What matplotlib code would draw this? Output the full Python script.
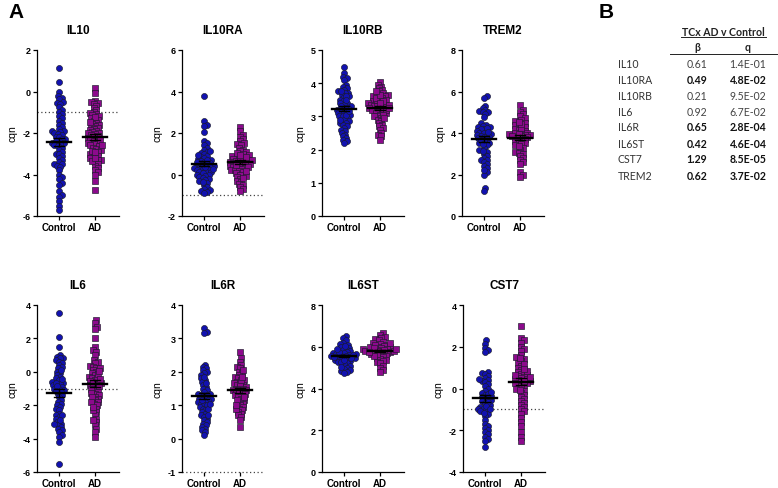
import numpy as np
import matplotlib
matplotlib.use("Agg")
import matplotlib.pyplot as plt

plt.rcParams['font.family'] = ['Liberation Sans', 'DejaVu Sans']
plt.rcParams['axes.unicode_minus'] = False

groups = ["Control", "AD"]

il10_ctrl = [1.15, 0.45, 0.0, -0.2, -0.3, -0.35, -0.5, -0.55, -0.6, -0.75, -0.9, -1.0, -1.1, -1.2,
             -1.3, -1.4, -1.5, -1.6, -1.7, -1.8, -1.9, -1.9, -1.95, -2.0, -2.05, -2.1, -2.2, -2.2,
             -2.3, -2.3, -2.4, -2.4, -2.5, -2.5, -2.55, -2.6, -2.65, -2.7, -2.8, -2.9, -3.0, -3.0,
             -3.1, -3.2, -3.3, -3.4, -3.5, -3.5, -3.6, -3.65, -3.8, -4.0, -4.1, -4.2, -4.4, -4.5,
             -4.8, -5.0, -5.1, -5.3, -5.5, -5.7]
il10_ad = [0.15, -0.05, -0.45, -0.5, -0.55, -0.6, -0.7, -0.8, -0.9, -1.0, -1.05, -1.1, -1.15, -1.2,
           -1.3, -1.35, -1.4, -1.5, -1.55, -1.6, -1.65, -1.7, -1.75, -1.8, -1.85, -1.9, -1.95, -2.0,
           -2.0, -2.05, -2.1, -2.15, -2.2, -2.25, -2.3, -2.35, -2.4, -2.45, -2.5, -2.55, -2.6, -2.65,
           -2.7, -2.75, -2.8, -2.9, -3.0, -3.05, -3.1, -3.2, -3.3, -3.3, -3.4, -3.5, -3.6, -3.7,
           -3.8, -3.9, -4.0, -4.3, -4.75, -1.25, -1.45, -2.35, -2.85, -3.35, -2.6, -2.9, -3.2]

il10ra_ctrl = [3.8, 2.6, 2.4, 2.35, 2.05, 1.6, 1.5, 1.4, 1.3, 1.2, 1.1, 1.05, 1.0, 0.9, 0.85, 0.8,
               0.75, 0.7, 0.65, 0.6, 0.55, 0.5, 0.5, 0.45, 0.4, 0.4, 0.35, 0.3, 0.3, 0.25, 0.2, 0.2,
               0.15, 0.1, 0.1, 0.05, 0.0, 0.0, -0.05, -0.1, -0.15, -0.2, -0.25, -0.3, -0.4, -0.5,
               -0.6, -0.7, -0.75, -0.8, -0.85, -0.9, 0.6, 0.7, 0.35, 0.25, -0.35, 1.15, 0.95]
il10ra_ad = [2.3, 2.1, 1.9, 1.8, 1.7, 1.6, 1.5, 1.45, 1.4, 1.3, 1.2, 1.15, 1.1, 1.0, 0.95, 0.9, 0.85,
             0.8, 0.75, 0.7, 0.7, 0.65, 0.6, 0.6, 0.55, 0.5, 0.5, 0.45, 0.4, 0.4, 0.35, 0.3, 0.3,
             0.25, 0.2, 0.2, 0.15, 0.1, 0.05, 0.0, -0.05, -0.1, -0.2, -0.3, -0.35, -0.45, -0.5,
             -0.6, -0.7, -0.8, 0.65, 0.55, 0.45, 0.35, 0.85, 1.05, 0.15, -0.15, 0.75, 0.95]

il10rb_ctrl = [4.5, 4.3, 4.2, 4.15, 4.1, 3.95, 3.9, 3.85, 3.8, 3.75, 3.7, 3.7, 3.65, 3.6, 3.55, 3.5,
               3.45, 3.4, 3.4, 3.35, 3.3, 3.3, 3.25, 3.2, 3.2, 3.15, 3.1, 3.1, 3.05, 3.0, 3.0, 2.95,
               2.9, 2.85, 2.8, 2.8, 2.75, 2.7, 2.65, 2.6, 2.55, 2.5, 2.45, 2.4, 2.35, 2.3, 2.25, 2.2,
               3.6, 3.5, 3.25, 3.05, 2.9, 3.75, 3.15]
il10rb_ad = [4.05, 3.95, 3.9, 3.85, 3.8, 3.75, 3.7, 3.65, 3.6, 3.6, 3.55, 3.5, 3.5, 3.45, 3.4, 3.4,
             3.35, 3.35, 3.3, 3.3, 3.25, 3.25, 3.2, 3.2, 3.15, 3.15, 3.1, 3.1, 3.05, 3.0, 3.0, 2.95,
             2.9, 2.85, 2.8, 2.75, 2.7, 2.65, 2.6, 2.5, 2.45, 2.4, 2.3, 3.45, 3.3, 3.2, 3.55, 3.65,
             3.05, 2.95, 3.35, 3.75, 3.25, 3.4]

trem2_ctrl = [5.8, 5.7, 5.3, 5.2, 5.1, 5.05, 5.0, 5.0, 4.9, 4.75, 4.5, 4.4, 4.35, 4.3, 4.3, 4.2, 4.2,
              4.1, 4.0, 4.0, 3.95, 3.9, 3.9, 3.85, 3.8, 3.8, 3.75, 3.7, 3.6, 3.5, 3.5, 3.4, 3.3, 3.2,
              3.1, 3.0, 2.9, 2.8, 2.7, 2.7, 2.6, 2.5, 2.4, 2.3, 2.1, 2.0, 1.35, 1.2, 4.25, 3.65,
              3.45, 4.05, 2.2, 3.15]
trem2_ad = [5.35, 5.1, 5.0, 4.9, 4.8, 4.7, 4.65, 4.6, 4.5, 4.4, 4.35, 4.3, 4.2, 4.15, 4.1, 4.05, 4.0,
            4.0, 3.95, 3.9, 3.9, 3.85, 3.8, 3.8, 3.75, 3.7, 3.65, 3.6, 3.55, 3.5, 3.45, 3.4, 3.3,
            3.2, 3.1, 3.05, 3.0, 2.9, 2.8, 2.7, 2.6, 2.5, 2.1, 2.0, 1.9, 4.25, 3.95, 4.45, 3.85,
            3.35, 4.55]

il6_ctrl = [3.55, 2.1, 1.5, 1.0, 0.9, 0.85, 0.8, 0.7, 0.6, 0.5, 0.4, 0.3, 0.2, 0.0, -0.1, -0.2,
            -0.3, -0.4, -0.5, -0.6, -0.7, -0.75, -0.8, -0.9, -1.0, -1.0, -1.1, -1.2, -1.3, -1.4,
            -1.5, -1.7, -1.8, -1.9, -2.0, -2.1, -2.2, -2.3, -2.5, -2.6, -2.7, -2.8, -3.0, -3.1,
            -3.2, -3.3, -3.4, -3.5, -3.6, -3.8, -3.9, -4.2, -5.5, -0.65, -0.85, -1.15, -2.6, -3.15,
            0.1, -0.45, -2.9]
il6_ad = [3.1, 2.9, 2.7, 2.55, 2.0, 1.5, 1.3, 1.2, 1.0, 0.7, 0.6, 0.5, 0.35, 0.3, 0.2, 0.1, 0.0,
          -0.1, -0.2, -0.3, -0.4, -0.5, -0.55, -0.6, -0.7, -0.75, -0.8, -0.9, -1.0, -1.1, -1.2,
          -1.3, -1.4, -1.5, -1.6, -1.7, -1.8, -1.9, -2.0, -2.2, -2.4, -2.6, -2.8, -3.0, -3.2,
          -3.4, -3.6, -3.9, -0.65, -0.35, -0.15, 0.25, -1.05, -1.25, -0.45, -2.3, -2.9, 0.05, -0.85,
          -1.5, -1.8, -2.1]

il6r_ctrl = [3.3, 3.2, 3.15, 2.2, 2.15, 2.1, 2.05, 2.0, 1.95, 1.9, 1.8, 1.75, 1.7, 1.6, 1.55, 1.5,
             1.45, 1.4, 1.35, 1.3, 1.3, 1.25, 1.2, 1.2, 1.15, 1.1, 1.1, 1.05, 1.0, 1.0, 0.95, 0.9,
             0.85, 0.8, 0.75, 0.7, 0.65, 0.6, 0.55, 0.5, 0.45, 0.4, 0.35, 0.3, 0.25, 0.2, 0.1,
             1.65, 1.35, 1.15, 0.9, 1.85, 0.7, 1.05]
il6r_ad = [2.6, 2.4, 2.3, 2.2, 2.15, 2.1, 2.0, 1.95, 1.9, 1.85, 1.8, 1.75, 1.7, 1.65, 1.6, 1.6, 1.55,
           1.5, 1.5, 1.45, 1.45, 1.4, 1.4, 1.35, 1.3, 1.3, 1.25, 1.2, 1.15, 1.1, 1.05, 1.0, 0.95,
           0.9, 0.85, 0.8, 0.75, 0.7, 0.65, 0.55, 0.35, 1.55, 1.65, 1.75, 1.35, 1.25, 1.85, 2.05,
           1.15, 1.45, 0.9, 1.0]

il6st_ctrl = [6.5, 6.4, 6.3, 6.2, 6.15, 6.1, 6.0, 5.95, 5.9, 5.85, 5.8, 5.75, 5.7, 5.7, 5.65, 5.6,
              5.6, 5.55, 5.55, 5.5, 5.5, 5.45, 5.4, 5.4, 5.35, 5.3, 5.25, 5.2, 5.15, 5.1, 5.0, 4.95,
              4.9, 4.85, 4.8, 4.75, 5.65, 5.5, 5.6, 5.75, 5.45, 6.05, 5.25, 5.05, 5.9, 5.35]
il6st_ad = [6.65, 6.55, 6.45, 6.4, 6.35, 6.3, 6.25, 6.2, 6.15, 6.1, 6.05, 6.0, 6.0, 5.95, 5.9, 5.9,
            5.85, 5.85, 5.8, 5.8, 5.75, 5.75, 5.7, 5.7, 5.65, 5.6, 5.55, 5.5, 5.45, 5.4, 5.35, 5.3,
            5.25, 5.2, 5.1, 5.0, 4.9, 4.8, 5.8, 5.9, 6.0, 6.1, 5.65, 5.55, 6.2, 5.95, 5.75, 5.85]

cst7_ctrl = [2.3, 2.15, 1.95, 1.85, 1.75, 0.8, 0.75, 0.7, 0.6, 0.5, 0.4, 0.35, 0.3, 0.2, 0.1, 0.0,
             -0.1, -0.2, -0.3, -0.4, -0.45, -0.5, -0.55, -0.6, -0.7, -0.8, -0.9, -0.95, -1.0,
             -1.05, -1.1, -1.2, -1.3, -1.5, -1.7, -1.8, -1.9, -2.0, -2.1, -2.2, -2.3, -2.4, -2.5,
             -2.8, -0.35, -0.65, -0.85, -1.0, 0.45, -0.25, -1.15, -0.15]
cst7_ad = [3.0, 2.4, 2.3, 2.2, 2.0, 1.9, 1.8, 1.6, 1.5, 1.4, 1.3, 1.2, 1.1, 1.0, 0.9, 0.8, 0.75, 0.7,
           0.65, 0.6, 0.55, 0.5, 0.45, 0.4, 0.35, 0.3, 0.25, 0.2, 0.15, 0.1, 0.0, -0.1, -0.2, -0.3,
           -0.4, -0.5, -0.6, -0.7, -0.8, -0.9, -1.0, -1.1, -1.2, -1.4, -1.6, -1.8, -2.1, -2.3,
           -2.5, 0.45, 0.55, 0.35, 0.65, 1.15, 0.85, 0.25, 1.45, -0.05, 0.95]

# table (panel B)
table_genes = ["IL10", "IL10RA", "IL10RB", "IL6", "IL6R", "IL6ST", "CST7", "TREM2"]
table_beta = ["0.61", "0.49", "0.21", "0.92", "0.65", "0.42", "1.29", "0.62"]
table_q = ["1.4E-01", "4.8E-02", "9.5E-02", "6.7E-02", "2.8E-04", "4.6E-04", "8.5E-05", "3.7E-02"]
table_bold = [False, True, False, False, True, True, True, True]

# name, control, ad, ylim, yticks, ref line, axis rect in px (left, top, bottom)
panels = [
    ("IL10", il10_ctrl, il10_ad, (-6, 2), np.arange(-6, 3, 2), True, (37, 51, 217)),
    ("IL10RA", il10ra_ctrl, il10ra_ad, (-2, 6), np.arange(-2, 7, 2), True, (182, 51, 217)),
    ("IL10RB", il10rb_ctrl, il10rb_ad, (0, 5), np.arange(0, 6, 1), False, (322, 51, 217)),
    ("TREM2", trem2_ctrl, trem2_ad, (0, 8), np.arange(0, 9, 2), False, (462, 51, 217)),
    ("IL6", il6_ctrl, il6_ad, (-6, 4), np.arange(-6, 5, 2), True, (37, 306, 473)),
    ("IL6R", il6r_ctrl, il6r_ad, (-1, 4), np.arange(-1, 5, 1), True, (182, 306, 473)),
    ("IL6ST", il6st_ctrl, il6st_ad, (0, 8), np.arange(0, 9, 2), False, (322, 306, 473)),
    ("CST7", cst7_ctrl, cst7_ad, (-4, 4), np.arange(-4, 5, 2), True, (463, 306, 473)),
]

W, H = 778, 489
AX_W = 82
XLIM = (-0.611, 1.667)
PX_PER_X = AX_W / (XLIM[1] - XLIM[0])
DIAM = 3.4  # swarm spacing in px (markers overlap a little)
CTRL_COL = "#1212b0"
AD_COL = "#8c0a8c"


def swarm(vals, px_per_y, diam):
    ys = np.asarray(vals, float) * px_per_y
    xs = np.zeros(len(ys))
    placed = []
    for i in np.argsort(ys):
        y = ys[i]
        cands = [0.0]
        for px, py in placed:
            dy = y - py
            if abs(dy) < diam:
                dx = np.sqrt(diam ** 2 - dy ** 2)
                cands += [px + dx, px - dx]
        cands.sort(key=abs)
        for c in cands:
            if all((c - px) ** 2 + (y - py) ** 2 >= diam ** 2 - 1e-6 for px, py in placed):
                break
        xs[i] = c
        placed.append((c, y))
    return xs


fig = plt.figure(figsize=(W / 100, H / 100), dpi=100)

for name, ctrl, ad, ylim, yticks, ref, (lft, top, bot) in panels:
    ax = fig.add_axes([lft / W, 1 - bot / H, AX_W / W, (bot - top) / H])
    px_per_y = (bot - top) / (ylim[1] - ylim[0])
    for g, (vals, col, mk) in enumerate([(ctrl, CTRL_COL, "o"), (ad, AD_COL, "s")]):
        off = swarm(vals, px_per_y, DIAM)
        ax.scatter(g + off / PX_PER_X, vals, s=19 if mk == "o" else 15, marker=mk, c=col,
                   edgecolors="#1a1a2a", linewidths=0.45, zorder=3, clip_on=False)
        m = np.mean(vals)
        sem = np.std(vals, ddof=1) / np.sqrt(len(vals))
        ax.plot([g - 0.33, g + 0.33], [m, m], color="black", lw=1.7, zorder=4)
        ax.plot([g, g], [m - sem, m + sem], color="black", lw=1.0, zorder=4)
        for yy in (m - sem, m + sem):
            ax.plot([g - 0.15, g + 0.15], [yy, yy], color="black", lw=1.0, zorder=4)
    if ref:
        ax.axhline(-1, color="#444444", lw=0.9, ls=(0, (1, 2)), zorder=2, clip_on=False)
    ax.set_xlim(XLIM)
    ax.set_ylim(ylim)
    ax.set_yticks(yticks)
    ax.set_yticklabels([str(t) for t in yticks], fontsize=6.5, fontweight="bold")
    ax.set_xticks([0, 1])
    ax.set_xticklabels(groups, fontsize=7, fontweight="bold")
    ax.tick_params(length=3, width=0.9, pad=1.5)
    for s in ("top", "right"):
        ax.spines[s].set_visible(False)
    for s in ("left", "bottom"):
        ax.spines[s].set_linewidth(0.9)
    if name == "IL6R":
        ax.spines["bottom"].set_visible(False)
    ax.set_title(name, fontsize=8.5, fontweight="bold", pad=12)
    ax.set_ylabel("cqn", fontsize=7.5, labelpad=4)

fig.text(8 / W, 1 - 13 / H, "A", fontsize=15, fontweight="bold", va="center", ha="left")
fig.text(599 / W, 1 - 13 / H, "B", fontsize=15, fontweight="bold", va="center", ha="left")

tfont = ["Lato", "DejaVu Sans"]
tcol = "#222222"
TS = 7.6
fig.text(723 / W, 1 - 32 / H, "TCx AD v Control", fontsize=TS, family=tfont, fontweight="bold",
         ha="center", va="center", color=tcol)
fig.add_artist(plt.Line2D([681 / W, 766 / W], [1 - 38 / H, 1 - 38 / H], color=tcol, lw=0.7))
fig.text(697 / W, 1 - 47.5 / H, "β", fontsize=TS, family=tfont, fontweight="bold",
         ha="center", va="center", color=tcol)
fig.text(748 / W, 1 - 47.5 / H, "q", fontsize=TS, family=tfont, fontweight="bold",
         ha="center", va="center", color=tcol)
fig.add_artist(plt.Line2D([670 / W, 777 / W], [1 - 55 / H, 1 - 55 / H], color=tcol, lw=0.7))
for i, (gname, b, q, bold) in enumerate(zip(table_genes, table_beta, table_q, table_bold)):
    y = 1 - (64 + 16 * i) / H
    w = "bold" if bold else "normal"
    fig.text(618 / W, y, gname, fontsize=TS, family=tfont, ha="left", va="center", color="#333333")
    fig.text(697 / W, y, b, fontsize=TS, family=tfont, fontweight=w, ha="center", va="center",
             color="#111111" if bold else "#444444")
    fig.text(748 / W, y, q, fontsize=TS, family=tfont, fontweight=w, ha="center", va="center",
             color="#111111" if bold else "#444444")

fig.savefig("out.png", dpi=100)
